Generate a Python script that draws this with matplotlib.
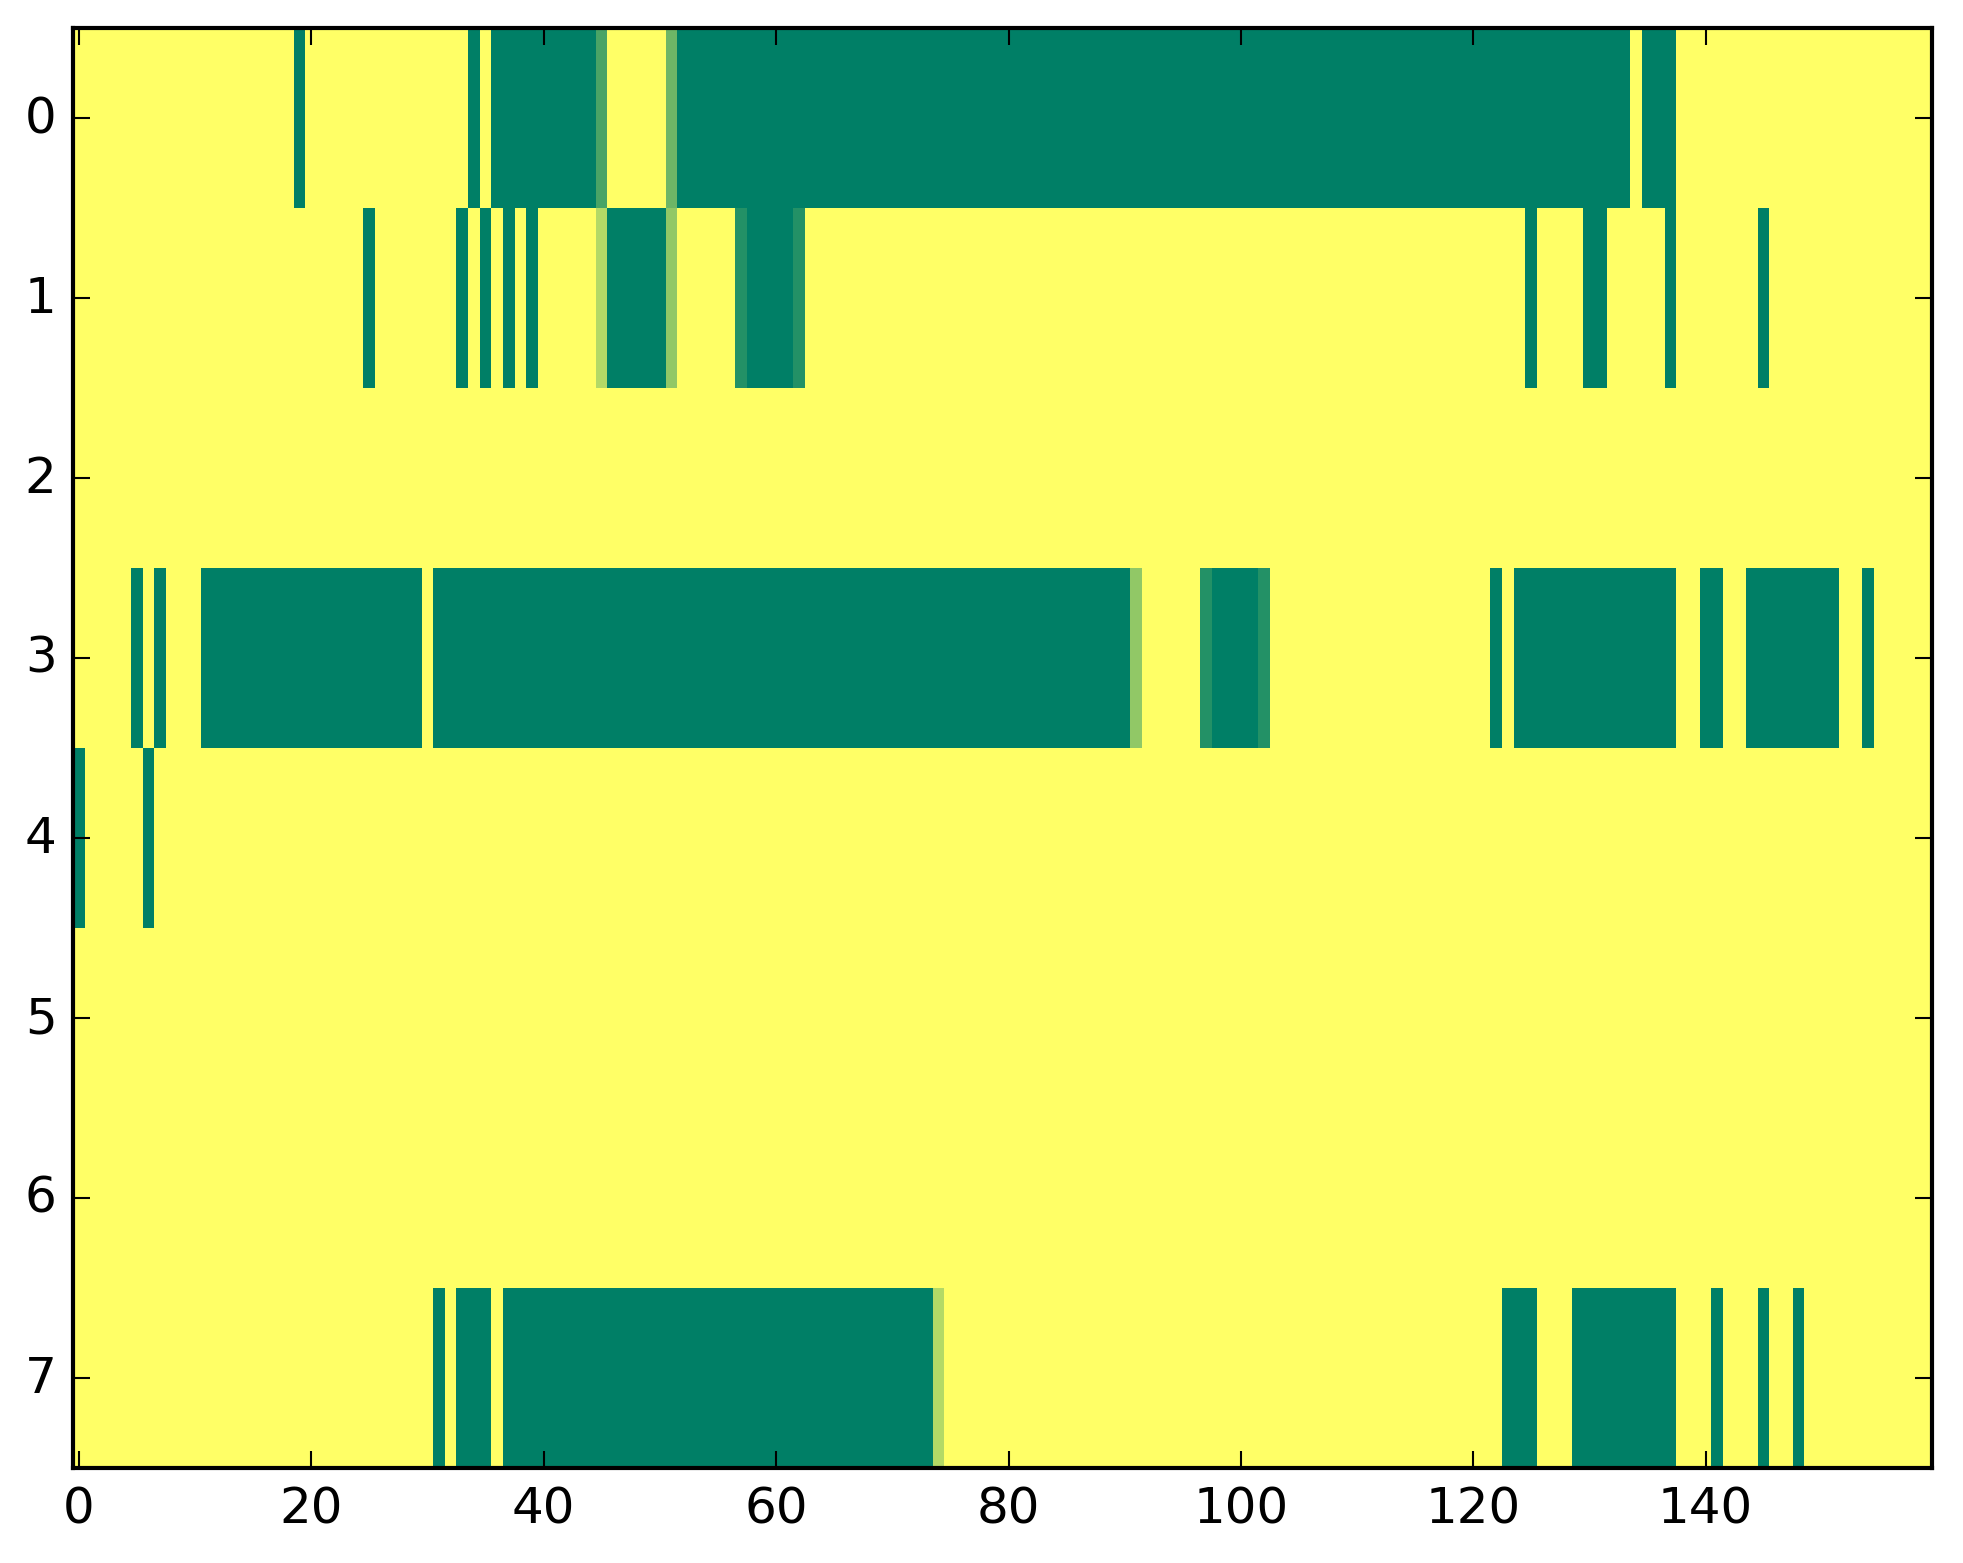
import numpy as np
import matplotlib
matplotlib.use("Agg")
import matplotlib.pyplot as plt

plt.style.use("classic")
plt.rcParams["font.family"] = ["DejaVu Sans"]

n_rows = 8
n_cols = 160

# Each run: (first column, last column, value); all other cells are 1.0
row0_runs = [(19, 19, 0.0), (34, 34, 0.0), (36, 44, 0.0), (45, 45, 0.29),
             (51, 51, 0.43), (52, 133, 0.0), (135, 137, 0.0)]
row1_runs = [(25, 25, 0.0), (33, 33, 0.0), (35, 35, 0.0), (37, 37, 0.0),
             (39, 39, 0.0), (45, 45, 0.70), (46, 50, 0.0), (51, 51, 0.57),
             (57, 57, 0.14), (58, 61, 0.0), (62, 62, 0.14), (125, 125, 0.0),
             (130, 131, 0.0), (137, 137, 0.0), (145, 145, 0.0)]
row2_runs = []
row3_runs = [(5, 5, 0.0), (7, 7, 0.0), (11, 29, 0.0), (31, 90, 0.0),
             (91, 91, 0.57), (97, 97, 0.14), (98, 101, 0.0), (102, 102, 0.14),
             (122, 122, 0.0), (124, 137, 0.0), (140, 141, 0.0),
             (144, 151, 0.0), (154, 154, 0.0)]
row4_runs = [(0, 0, 0.0), (6, 6, 0.0)]
row5_runs = []
row6_runs = []
row7_runs = [(31, 31, 0.0), (33, 35, 0.0), (37, 73, 0.0), (74, 74, 0.70),
             (123, 125, 0.0), (129, 137, 0.0), (141, 141, 0.0),
             (145, 145, 0.0), (148, 148, 0.0)]

all_runs = [row0_runs, row1_runs, row2_runs, row3_runs,
            row4_runs, row5_runs, row6_runs, row7_runs]

data = np.ones((n_rows, n_cols))
for r, runs in enumerate(all_runs):
    for a, b, v in runs:
        data[r, a:b + 1] = v

W, H = 1963, 1564
fig = plt.figure(figsize=(W / 300, H / 300), dpi=300, facecolor="white")
ax = fig.add_axes([73.2 / W, (H - 1469) / H, 1859 / W, 1440 / H])
ax.imshow(data, cmap="summer", vmin=0, vmax=1, aspect="auto",
          interpolation="nearest")
ax.set_xlim(-0.5, n_cols - 0.5)
ax.set_ylim(n_rows - 0.5, -0.5)
ax.set_xticks(np.arange(0, 141, 20))
ax.set_yticks(np.arange(0, 8, 1))
ax.tick_params(labelsize=12)
fig.savefig("out.png", dpi=300, facecolor="white")
